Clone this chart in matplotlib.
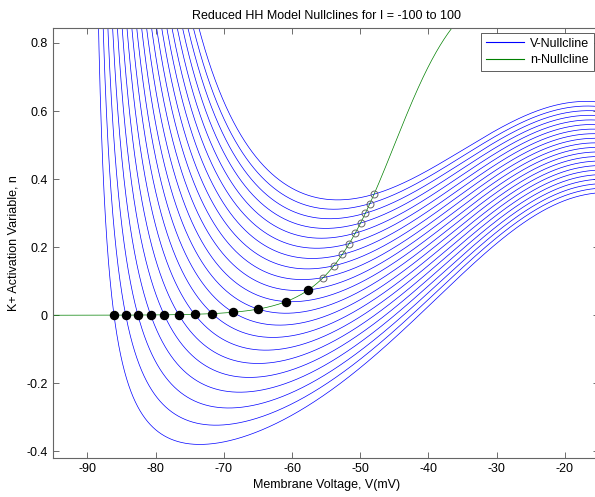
import numpy as np
import matplotlib
matplotlib.use("Agg")
import matplotlib.pyplot as plt

# persistent sodium + potassium (reduced HH) parameters
g_L, E_L = 8.0, -78.0
g_Na, E_Na = 20.0, 60.0
g_K, E_K = 10.0, -90.0
m_half, m_k = -20.0, 15.0
n_half, n_k = -45.0, 5.0

currents = [-100, -90, -80, -70, -60, -50, -40, -30, -20, -10, 0,
            10, 20, 30, 40, 50, 60, 70, 80, 90, 100]
# stability of the equilibrium on each nullcline (True = stable)
stable = [True] * 12 + [False] * 9

v_lim = (-95, -15)
n_lim = (-0.4186, 0.845)


def m_inf(v):
    return 1.0 / (1.0 + np.exp((m_half - v) / m_k))


def n_inf(v):
    return 1.0 / (1.0 + np.exp((n_half - v) / n_k))


def v_nullcline(v, I):
    num = I - g_L * (v - E_L) - g_Na * m_inf(v) * (v - E_Na)
    return num / (g_K * (v - E_K))


def rhs(v, I):
    return I - g_L * (v - E_L) - g_Na * m_inf(v) * (v - E_Na) - g_K * n_inf(v) * (v - E_K)


def equilibrium(I):
    grid = np.linspace(-89.9, -15, 4000)
    f = rhs(grid, I)
    k = np.where(np.sign(f[:-1]) != np.sign(f[1:]))[0][0]
    a, b = grid[k], grid[k + 1]
    for _ in range(60):
        c = 0.5 * (a + b)
        if np.sign(rhs(a, I)) == np.sign(rhs(c, I)):
            a = c
        else:
            b = c
    v = 0.5 * (a + b)
    return v, n_inf(v)


plt.rcParams['font.family'] = ['Liberation Sans', 'DejaVu Sans']
plt.rcParams['axes.unicode_minus'] = False
fig = plt.figure(figsize=(5.95, 4.97), dpi=100)
ax = fig.add_axes([0.0896, 0.0791, 0.917, 0.8652])

V = np.linspace(-89.95, -15, 3000)
for i, I in enumerate(currents):
    ax.plot(V, v_nullcline(V, I), color='#0000ff', lw=0.5,
            label='V-Nullcline' if i == 0 else None)

Vn = np.linspace(-95, -15, 1000)
ax.plot(Vn, n_inf(Vn), color='#008000', lw=0.5, label='n-Nullcline')

for I, s in zip(currents, stable):
    ve, ne = equilibrium(I)
    if s:
        ax.plot(ve, ne, 'o', ms=5.8, mfc='black', mec='black', zorder=5)
    else:
        ax.plot(ve, ne, 'o', ms=5, mfc='none', mec='#666666', mew=0.7, zorder=5)

ax.set_xlim(*v_lim)
ax.set_ylim(*n_lim)
ax.set_xticks(np.arange(-90, -10, 10))
ax.set_yticks([-0.4, -0.2, 0, 0.2, 0.4, 0.6, 0.8])
ax.set_yticklabels(['-0.4', '-0.2', '0', '0.2', '0.4', '0.6', '0.8'])
ax.tick_params(direction='in', top=True, right=True, length=4, width=0.6,
               labelsize=9, colors='#555555', labelcolor='black', pad=4)
for sp in ax.spines.values():
    sp.set_color('#666666')
    sp.set_linewidth(0.8)

ax.set_title('Reduced HH Model Nullclines for I = -100 to 100', fontsize=9, pad=6)
ax.set_xlabel('Membrane Voltage, V(mV)', fontsize=9, labelpad=3)
ax.set_ylabel('K+ Activation Variable, n', fontsize=9, labelpad=5)

leg = ax.legend(loc='upper right', bbox_to_anchor=(0.991, 0.988), borderaxespad=0,
                fontsize=9, fancybox=False, framealpha=1, edgecolor='#444444',
                handlelength=3.0, borderpad=0.4, labelspacing=0.35,
                handletextpad=0.5)
leg.get_frame().set_linewidth(0.6)
for h in leg.get_lines():
    h.set_linewidth(0.8)

fig.savefig('out.png', dpi=100)
